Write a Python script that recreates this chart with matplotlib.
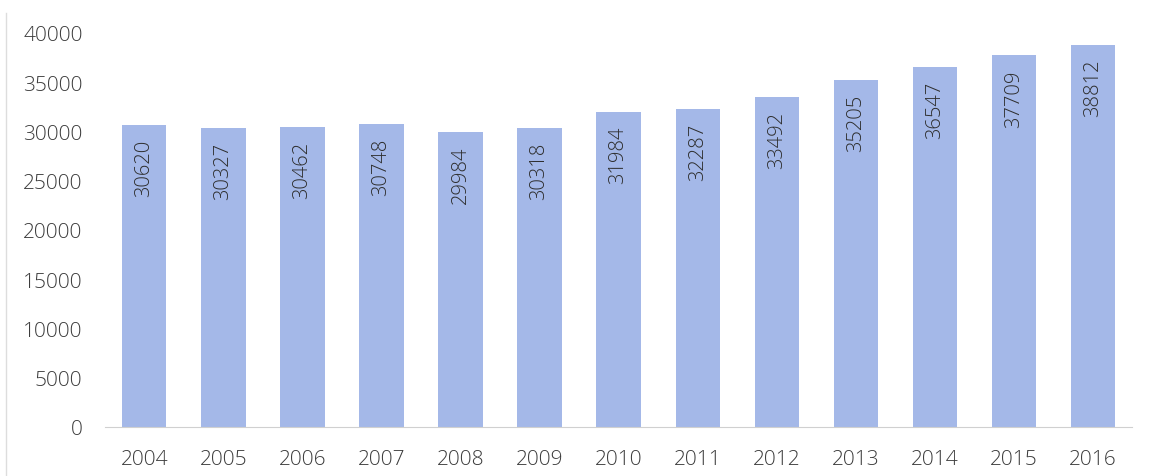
import matplotlib.pyplot as plt

# data
years = ['2004', '2005', '2006', '2007', '2008', '2009', '2010',
         '2011', '2012', '2013', '2014', '2015', '2016']
values = [30620, 30327, 30462, 30748, 29984, 30318, 31984,
          32287, 33492, 35205, 36547, 37709, 38812]
yticks = [0, 5000, 10000, 15000, 20000, 25000, 30000, 35000, 40000]

plt.rcParams['font.family'] = ['Open Sans', 'DejaVu Sans']
plt.rcParams['font.weight'] = 300

fig = plt.figure(figsize=(11.52, 4.77), dpi=100)
ax = fig.add_axes([0.091, 0.103, 0.892, 0.826])

x = range(len(years))
ax.bar(x, values, width=0.56, color='#a4b8e8')

for i, v in zip(x, values):
    ax.annotate(str(v), xy=(i, v), xytext=(0, -10), textcoords='offset points',
                ha='center', va='top', rotation=90, fontsize=14.5, color='#2e2e2e')

ax.set_xlim(-0.5, len(years) - 0.5)
ax.set_ylim(0, 40000)
ax.set_xticks(list(x))
ax.set_xticklabels(years)
ax.set_yticks(yticks)

for s in ['top', 'right', 'left']:
    ax.spines[s].set_visible(False)
ax.spines['bottom'].set_color('#d0d0d0')
ax.tick_params(axis='both', length=0, labelsize=15, colors='#3c3c3c')
ax.tick_params(axis='x', pad=16)
ax.tick_params(axis='y', pad=16)

# faint border line at the left edge of the original scan
fig.add_artist(plt.Line2D([0.005, 0.005], [0.0, 0.97], color='#dddddd', lw=1))

fig.savefig('out.png', dpi=100)
